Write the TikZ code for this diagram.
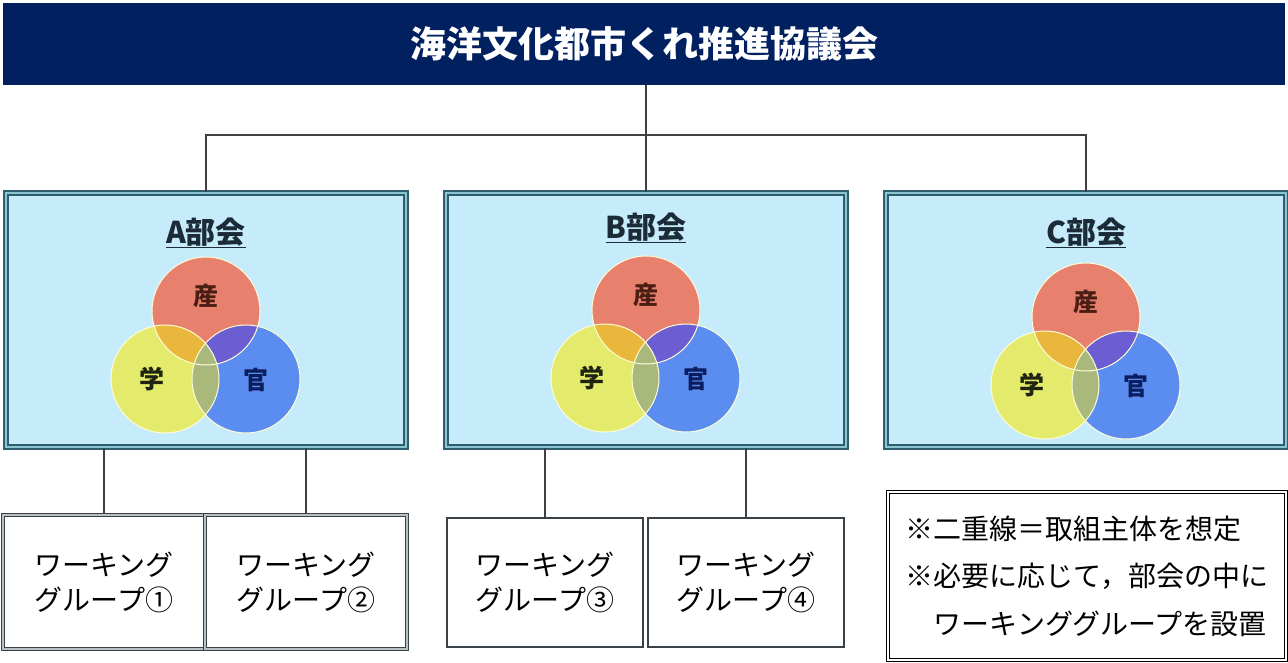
\documentclass[tikz,border=0pt]{standalone}
\usepackage{fontspec}
\setmainfont{Noto Sans CJK JP}
\usetikzlibrary{positioning}

\definecolor{navy}{RGB}{0,32,96}
\definecolor{bukaifill}{RGB}{198,235,250}
\definecolor{bukailine}{RGB}{46,95,110}
\definecolor{bukaigap}{RGB}{140,195,210}
\definecolor{wgline}{RGB}{58,66,72}
\definecolor{wggap}{RGB}{184,192,196}
\definecolor{linegray}{RGB}{64,64,64}
\definecolor{sanfill}{RGB}{232,128,110}
\definecolor{gakufill}{RGB}{227,234,108}
\definecolor{kanfill}{RGB}{91,141,240}
\definecolor{orangelap}{RGB}{233,183,60}
\definecolor{purplelap}{RGB}{108,93,211}
\definecolor{olivelap}{RGB}{169,185,124}
\definecolor{titletext}{RGB}{28,43,56}
\definecolor{santext}{RGB}{75,30,20}
\definecolor{gakutext}{RGB}{30,36,16}
\definecolor{kantext}{RGB}{11,29,94}

\tikzset{
  bukai/.style={draw=bukailine, double=bukaigap, double distance=2pt, line width=1.6pt,
    fill=bukaifill, minimum width=400pt, minimum height=254pt, inner sep=0pt},
  parttitle/.style={text=titletext, font=\fontsize{30}{34}\selectfont\bfseries},
  lbl/.style={font=\fontsize{25}{28}\selectfont\bfseries},
  ring/.style={draw=white!85!yellow, line width=1pt},
  wgbox/.style={draw=wgline, fill=white, align=center, inner sep=0pt,
    font=\fontsize{28}{35}\selectfont},
  wgdouble/.style={wgbox, double=wggap, double distance=2pt, line width=1.4pt},
  wgsingle/.style={wgbox, line width=1.6pt},
  conn/.style={draw=linegray, line width=1.6pt}
}

\begin{document}
\begin{tikzpicture}[x=1pt,y=-1pt]
    \useasboundingbox (0,0) rectangle (1288,662);

    % Council
    \node[fill=navy, text=white, minimum width=1282pt, minimum height=82pt, inner sep=0pt,
      font=\fontsize{36}{40}\selectfont\bfseries] (council) at (644,44) {海洋文化都市くれ推進協議会};

    % Bukai boxes with Venn diagrams
    \foreach \name/\cx/\ty/\cy in {A/206/233/311, B/646/228/310, C/1086/233/317} {
      \node[bukai] (box\name) at (\cx,320) {};
      \node[parttitle] (title\name) at (\cx,\ty) {\underline{\name 部会}};
      \fill[sanfill] (\cx,\cy) circle (54pt);
      \fill[gakufill] (\cx-41,\cy+68) circle (54pt);
      \fill[kanfill] (\cx+40,\cy+68) circle (54pt);
      \begin{scope}
        \clip (\cx,\cy) circle (54pt);
        \fill[orangelap] (\cx-41,\cy+68) circle (54pt);
        \fill[purplelap] (\cx+40,\cy+68) circle (54pt);
      \end{scope}
      \begin{scope}
        \clip (\cx-41,\cy+68) circle (54pt);
        \fill[olivelap] (\cx+40,\cy+68) circle (54pt);
      \end{scope}
      \draw[ring] (\cx,\cy) circle (54pt);
      \draw[ring] (\cx-41,\cy+68) circle (54pt);
      \draw[ring] (\cx+40,\cy+68) circle (54pt);
      \node[lbl, text=santext] (san\name) at (\cx,\cy-15) {産};
      \node[lbl, text=gakutext] (gaku\name) at (\cx-54,\cy+68) {学};
      \node[lbl, text=kantext] (kan\name) at (\cx+50,\cy+69) {官};
    }

    % Working groups
    \node[wgdouble, minimum width=202pt, minimum height=134pt] (wg1) at (104,582) {ワーキング\\グループ①};
    \node[wgdouble, minimum width=202pt, minimum height=134pt] (wg2) at (306,582) {ワーキング\\グループ②};
    \node[wgsingle, minimum width=196pt, minimum height=129pt] (wg3) at (545,582.5) {ワーキング\\グループ③};
    \node[wgsingle, minimum width=196pt, minimum height=129pt] (wg4) at (746,582.5) {ワーキング\\グループ④};

    % Note
    \node[draw=black, double=white, double distance=2.5pt, line width=0.9pt,
      minimum width=398pt, minimum height=168pt, align=left, inner sep=0pt,
      font=\fontsize{28}{47.5}\selectfont] (note) at (1087,576)
      {※二重線＝取組主体を想定\\※必要に応じて，部会の中に\\　ワーキンググループを設置};

    % Connectors
    \coordinate (bus) at (646,135);
    \draw[conn] (council.south -| boxB.north) -- (boxB.north);
    \draw[conn] (boxA.north) |- (bus) -| (boxC.north);
    \draw[conn] (wg1.north) -- (wg1.north |- boxA.south);
    \draw[conn] (wg2.north) -- (wg2.north |- boxA.south);
    \draw[conn] (wg3.north) -- (wg3.north |- boxB.south);
    \draw[conn] (wg4.north) -- (wg4.north |- boxB.south);
\end{tikzpicture}
\end{document}
